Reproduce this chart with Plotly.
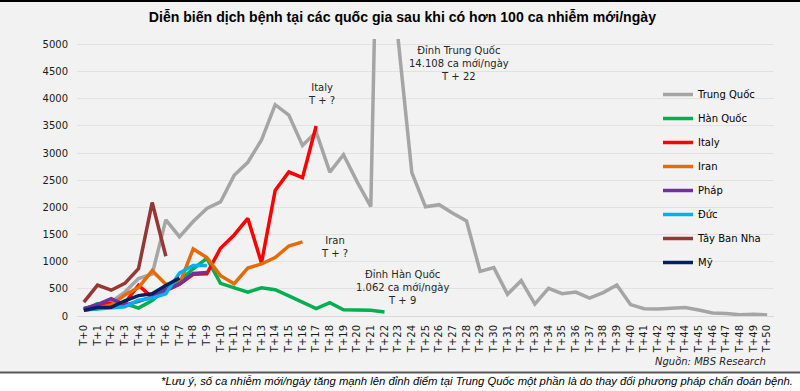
import plotly.graph_objects as go

categories = ["T+%d" % i for i in range(51)]

trung_quoc = [150, 130, 260, 440, 690, 770, 1770, 1460, 1740, 1980, 2100, 2590, 2830, 3240,
              3890, 3700, 3140, 3390, 2650, 2970, 2470, 2015, 14108, 5090, 2640, 2010, 2050,
              1890, 1750, 820, 890, 400, 650, 220, 510, 410, 440, 330, 430, 570, 210, 135,
              130, 150, 155, 110, 55, 45, 25, 30, 20]
han_quoc = [110, 230, 170, 230, 145, 285, 505, 650, 870, 1062, 600, 516, 440, 520, 485, 370,
            250, 135, 245, 115, 110, 105, 75]
italy = [131, 202, 233, 240, 566, 342, 466, 587, 769, 778, 1247, 1492, 1797, 977, 2313, 2651,
         2547, 3497]
iran = [106, 143, 205, 385, 523, 835, 586, 591, 1234, 1076, 743, 595, 881, 958, 1075, 1289, 1365]
phap = [135, 210, 320, 200, 270, 350, 480, 590, 785, 800]
duc = [110, 125, 140, 170, 290, 330, 410, 790, 930, 930]
tay_ban_nha = [255, 570, 475, 600, 870, 2090, 1100]
my = [105, 155, 160, 280, 375, 410, 560, 700]

series = [
    ("Trung Quốc", trung_quoc, "#A5A5A5"),
    ("Hàn Quốc", han_quoc, "#00B050"),
    ("Italy", italy, "#FF0000"),
    ("Iran", iran, "#E36C09"),
    ("Pháp", phap, "#7030A0"),
    ("Đức", duc, "#00B0F0"),
    ("Tây Ban Nha", tay_ban_nha, "#953735"),
    ("Mỹ", my, "#002060"),
]

FONT = "DejaVu Sans"

fig = go.Figure()
for name, vals, color in series:
    fig.add_trace(go.Scatter(
        x=categories[:len(vals)], y=vals, mode="lines", name=name,
        legendgroup=name,
        line=dict(color=color, width=3.5),
    ))

# pixel helpers for paper coords
L, T, W, H = 77, 39, 697, 277
def px(xp):
    return (xp - L) / W
def py(yp):
    return (T + H - yp) / H

annotations = [
    dict(text="Italy<br>T + ?", x=17.4, y=4085, xref="x", yref="y", showarrow=False,
         font=dict(family=FONT, size=10, color="#262626")),
    dict(text="Iran<br>T + ?", x=18.36, y=1264, xref="x", yref="y", showarrow=False,
         font=dict(family=FONT, size=10, color="#262626")),
    dict(text="Đỉnh Trung Quốc<br>14.108 ca mới/ngày<br>T + 22", x=27.43, y=4645, xref="x",
         yref="y", showarrow=False, font=dict(family=FONT, size=10, color="#262626")),
    dict(text="Đỉnh Hàn Quốc<br>1.062 ca mới/ngày<br>T + 9", x=23.34, y=534, xref="x",
         yref="y", showarrow=False, font=dict(family=FONT, size=10, color="#262626")),
    dict(text="<i>Nguồn: MBS Research</i>", x=px(768), y=py(361), xref="paper", yref="paper",
         xanchor="right", yanchor="middle", showarrow=False,
         font=dict(family=FONT, size=10, color="#262626")),
    dict(text="<i>*Lưu ý, số ca nhiễm mới/ngày tăng mạnh lên đỉnh điểm tại Trung Quốc một phần là do thay đổi phương pháp chẩn đoán bệnh.</i>",
         x=px(795), y=py(381), xref="paper", yref="paper", xanchor="right", yanchor="middle",
         showarrow=False, font=dict(family="Liberation Sans", size=11.3, color="#000000")),
]

shapes = [
    dict(type="rect", xref="paper", yref="paper", x0=px(-5), x1=px(805), y0=py(373), y1=py(400),
         fillcolor="white", line=dict(width=0), layer="below"),
    dict(type="line", xref="paper", yref="paper", x0=px(-5), x1=px(805), y0=py(372.5), y1=py(372.5),
         line=dict(color="#595959", width=2)),
    dict(type="line", xref="paper", yref="paper", x0=px(-5), x1=px(805), y0=py(1), y1=py(1),
         line=dict(color="#000000", width=2)),
]

fig.update_layout(
    width=800, height=391,
    margin=dict(l=L, r=800 - L - W, t=T, b=391 - T - H),
    paper_bgcolor="#F2F2F2", plot_bgcolor="#F2F2F2",
    title=dict(text="<b>Diễn biến dịch bệnh tại các quốc gia sau khi có hơn 100 ca nhiễm mới/ngày</b>",
               x=0.503, xanchor="center", y=1 - 17 / 391, yanchor="middle",
               font=dict(family="Liberation Sans", size=14.1, color="#000000")),
    showlegend=True,
    legend=dict(x=px(658), y=py(80), xanchor="left", yanchor="top",
                bgcolor="rgba(0,0,0,0)", font=dict(family=FONT, size=10, color="#000000"),
                tracegroupgap=5, itemwidth=30),
    xaxis=dict(type="category", categoryorder="array", categoryarray=categories,
               range=[-0.5, 50.5], tickangle=-90, showgrid=False,
               showline=True, linecolor="#D9D9D9", linewidth=1,
               tickfont=dict(family=FONT, size=10, color="#1A1A1A"),
               ticklabelstandoff=4, fixedrange=True),
    yaxis=dict(range=[0, 5100], tickvals=list(range(0, 5001, 500)), showgrid=True,
               gridcolor="#E2E2E2", gridwidth=1, zeroline=False,
               tickfont=dict(family=FONT, size=10, color="#1A1A1A"),
               ticklabelstandoff=8, fixedrange=True),
    annotations=annotations,
    shapes=shapes,
)

fig.write_html("out.html", config={"displayModeBar": False},
               post_script="document.body.style.margin='0';document.body.style.overflow='hidden';")
